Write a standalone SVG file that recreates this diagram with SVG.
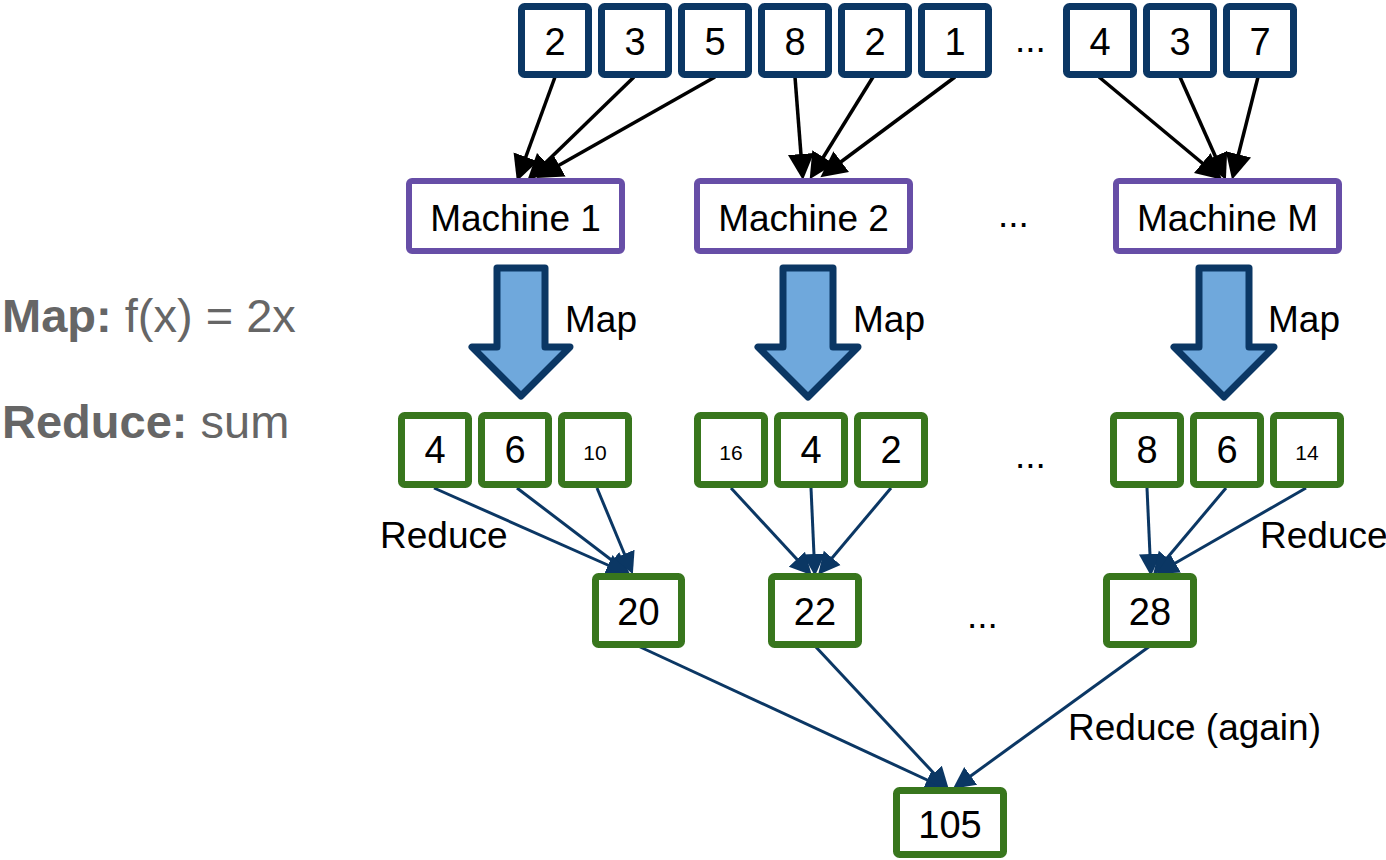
<svg xmlns="http://www.w3.org/2000/svg" width="1386" height="860" viewBox="0 0 1386 860">
<defs>
<style>
text{font-family:"Liberation Sans",Arial,sans-serif;fill:#000}
.in{fill:#fff;stroke:#0b3764;stroke-width:7}
.mach{fill:#fff;stroke:#674ea7;stroke-width:6}
.gr{fill:#fff;stroke:#38761d;stroke-width:7}
.d{font-size:38px;text-anchor:middle}
.s{font-size:21px;text-anchor:middle}
.lbl{font-size:37px}
.mt{font-size:37px;text-anchor:middle}
.big{fill:#6fa8dc;stroke:#0b3764;stroke-width:7;stroke-linejoin:round}
.ka{stroke:#000;stroke-width:3.5;fill:none;marker-end:url(#hk)}
.ba{stroke:#0b3764;stroke-width:3;fill:none;marker-end:url(#hb)}
.side{font-size:47px;fill:#666}
</style>
<marker id="hk" markerUnits="userSpaceOnUse" markerWidth="28" markerHeight="28" viewBox="0 0 28 28" refX="14" refY="14" orient="auto">
<path d="M0,1 L26,14 L0,27 z" fill="#000"/>
</marker>
<marker id="hb" markerUnits="userSpaceOnUse" markerWidth="24" markerHeight="24" viewBox="0 0 24 24" refX="12" refY="12" orient="auto">
<path d="M0,1 L22,12 L0,23 z" fill="#0b3764"/>
</marker>
</defs>
<rect width="1386" height="860" fill="#fff"/>

<g id="legend">
<text class="side" x="2" y="332"><tspan font-weight="bold">Map:</tspan> f(x) = 2x</text>
<text class="side" x="2" y="438"><tspan font-weight="bold">Reduce:</tspan> sum</text>
</g>

<g id="connectors">
<line class="ka" x1="555" y1="77" x2="521" y2="170"/>
<line class="ka" x1="634" y1="77" x2="536" y2="172"/>
<line class="ka" x1="715" y1="77" x2="547" y2="172"/>
<line class="ka" x1="795" y1="77" x2="802" y2="168"/>
<line class="ka" x1="873" y1="77" x2="816" y2="169"/>
<line class="ka" x1="955" y1="77" x2="830" y2="170"/>
<line class="ka" x1="1099" y1="77" x2="1213" y2="172"/>
<line class="ka" x1="1180" y1="77" x2="1221" y2="169"/>
<line class="ka" x1="1258" y1="77" x2="1235" y2="168"/>

<line class="ba" x1="434" y1="488" x2="619" y2="570"/>
<line class="ba" x1="517" y1="488" x2="622" y2="568"/>
<line class="ba" x1="597" y1="488" x2="629" y2="565"/>
<line class="ba" x1="731" y1="488" x2="805" y2="568"/>
<line class="ba" x1="811" y1="488" x2="814.5" y2="566"/>
<line class="ba" x1="891" y1="488" x2="824.5" y2="567"/>
<line class="ba" x1="1147" y1="488" x2="1150.5" y2="566"/>
<line class="ba" x1="1226" y1="488" x2="1159.5" y2="567"/>
<line class="ba" x1="1306" y1="488" x2="1165" y2="569"/>
<line class="ba" x1="638" y1="646" x2="938" y2="785"/>
<line class="ba" x1="815" y1="646" x2="942" y2="782"/>
<line class="ba" x1="1150" y1="646" x2="961" y2="783"/>
</g>

<g id="input-1-2"><rect class="in" x="521.5" y="6.5" width="67" height="68" rx="3"/><text class="d" x="555" y="55">2</text></g>
<g id="input-1-3"><rect class="in" x="601.5" y="6.5" width="67" height="68" rx="3"/><text class="d" x="635" y="55">3</text></g>
<g id="input-1-5"><rect class="in" x="681.5" y="6.5" width="67" height="68" rx="3"/><text class="d" x="715" y="55">5</text></g>
<g id="input-2-8"><rect class="in" x="761.5" y="6.5" width="67" height="68" rx="3"/><text class="d" x="795" y="55">8</text></g>
<g id="input-2-2"><rect class="in" x="841.5" y="6.5" width="67" height="68" rx="3"/><text class="d" x="875" y="55">2</text></g>
<g id="input-2-1"><rect class="in" x="921.5" y="6.5" width="67" height="68" rx="3"/><text class="d" x="955" y="55">1</text></g>
<g id="dots-top"><text class="lbl" x="1015" y="52">...</text></g>
<g id="input-m-4"><rect class="in" x="1066.5" y="6.5" width="67" height="68" rx="3"/><text class="d" x="1100" y="55">4</text></g>
<g id="input-m-3"><rect class="in" x="1146.5" y="6.5" width="67" height="68" rx="3"/><text class="d" x="1180" y="55">3</text></g>
<g id="input-m-7"><rect class="in" x="1226.5" y="6.5" width="67" height="68" rx="3"/><text class="d" x="1260" y="55">7</text></g>

<g id="machine-1"><rect class="mach" x="409" y="181" width="213" height="70" rx="3"/><text class="mt" x="515.5" y="231">Machine 1</text></g>
<g id="machine-2"><rect class="mach" x="697" y="181" width="213" height="70" rx="3"/><text class="mt" x="803.5" y="231">Machine 2</text></g>
<g id="dots-machine"><text class="lbl" x="998" y="227">...</text></g>
<g id="machine-m"><rect class="mach" x="1116" y="181" width="223" height="70" rx="3"/><text class="mt" x="1227.5" y="231">Machine M</text></g>

<g id="map-1"><path class="big" d="M497,268 H545 V347 H570 L521,396 L472,347 H497 Z"/><text class="lbl" x="565" y="332">Map</text></g>
<g id="map-2"><path class="big" d="M783,268 H833 V347 H858 L808,397 L758,347 H783 Z"/><text class="lbl" x="853" y="332">Map</text></g>
<g id="map-m"><path class="big" d="M1199,268 H1249 V347 H1274 L1224,397 L1174,347 H1199 Z"/><text class="lbl" x="1268" y="332">Map</text></g>

<g id="mapped-1-4"><rect class="gr" x="401.5" y="415.5" width="67" height="69" rx="3"/><text class="d" x="435" y="463">4</text></g>
<g id="mapped-1-6"><rect class="gr" x="481.5" y="415.5" width="67" height="69" rx="3"/><text class="d" x="515" y="463">6</text></g>
<g id="mapped-1-10"><rect class="gr" x="561.5" y="415.5" width="67" height="69" rx="3"/><text class="s" x="595" y="460">10</text></g>
<g id="mapped-2-16"><rect class="gr" x="697.5" y="415.5" width="67" height="69" rx="3"/><text class="s" x="731" y="460">16</text></g>
<g id="mapped-2-4"><rect class="gr" x="777.5" y="415.5" width="67" height="69" rx="3"/><text class="d" x="811" y="463">4</text></g>
<g id="mapped-2-2"><rect class="gr" x="857.5" y="415.5" width="67" height="69" rx="3"/><text class="d" x="891" y="463">2</text></g>
<g id="dots-mapped"><text class="lbl" x="1015" y="468">...</text></g>
<g id="mapped-m-8"><rect class="gr" x="1113.5" y="415.5" width="67" height="69" rx="3"/><text class="d" x="1147" y="463">8</text></g>
<g id="mapped-m-6"><rect class="gr" x="1193.5" y="415.5" width="67" height="69" rx="3"/><text class="d" x="1227" y="463">6</text></g>
<g id="mapped-m-14"><rect class="gr" x="1273.5" y="415.5" width="67" height="69" rx="3"/><text class="s" x="1307" y="460">14</text></g>

<g id="label-reduce-left"><text class="lbl" x="380" y="548">Reduce</text></g>
<g id="label-reduce-right"><text class="lbl" x="1260" y="548">Reduce</text></g>

<g id="reduced-1"><rect class="gr" x="595.5" y="576.5" width="86" height="68" rx="3"/><text class="d" x="638.5" y="625">20</text></g>
<g id="reduced-2"><rect class="gr" x="771.5" y="576.5" width="87" height="68" rx="3"/><text class="d" x="815" y="625">22</text></g>
<g id="dots-reduced"><text class="lbl" x="967" y="628">...</text></g>
<g id="reduced-m"><rect class="gr" x="1106.5" y="576.5" width="87" height="68" rx="3"/><text class="d" x="1150" y="625">28</text></g>

<g id="label-reduce-again"><text class="lbl" x="1068" y="740">Reduce (again)</text></g>

<g id="total"><rect class="gr" x="896.5" y="790.5" width="107" height="64" rx="3"/><text class="d" x="950" y="838">105</text></g>
</svg>
